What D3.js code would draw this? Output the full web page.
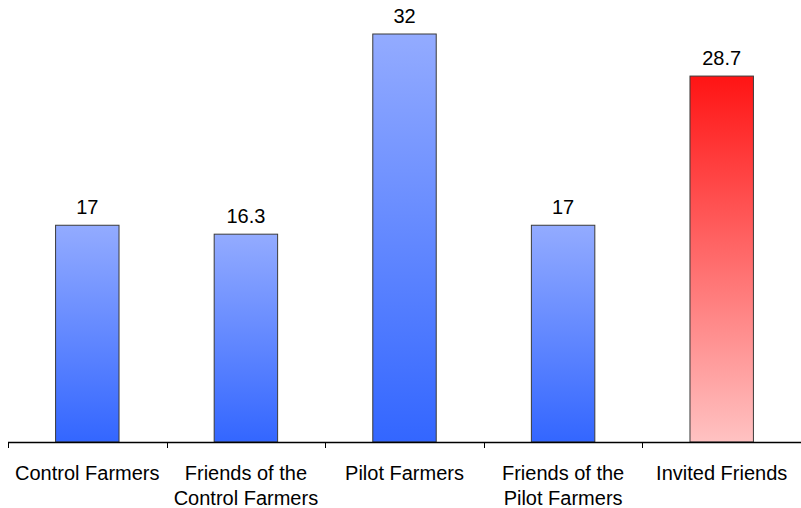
<!DOCTYPE html>
<html><head><meta charset="utf-8">
<script src="https://cdn.jsdelivr.net/npm/d3@7"></script>
<style>body{margin:0;background:#fff}</style>
</head><body>
<svg id="c" width="801" height="508"></svg>
<script>
const categories = [["Control Farmers"],["Friends of the","Control Farmers"],["Pilot Farmers"],["Friends of the","Pilot Farmers"],["Invited Friends"]];
const values = [17, 16.3, 32, 17, 28.7];
const labels = ["17","16.3","32","17","28.7"];
const highlight = [false,false,false,false,true];

const svg = d3.select("#c");
const x = d3.scaleBand().domain(d3.range(values.length)).range([8, 801]).paddingInner(0.6).paddingOuter(0.3);
const y = d3.scaleLinear().domain([0, 35]).range([442, 442 - 35*12.75]);

const defs = svg.append("defs");
const gb = defs.append("linearGradient").attr("id","gb").attr("x1",0).attr("y1",0).attr("x2",0).attr("y2",1);
gb.append("stop").attr("offset","0%").attr("stop-color","#93ABFF");
gb.append("stop").attr("offset","100%").attr("stop-color","#3366FF");
const gr = defs.append("linearGradient").attr("id","gr").attr("x1",0).attr("y1",0).attr("x2",0).attr("y2",1);
gr.append("stop").attr("offset","0%").attr("stop-color","#FF1414");
gr.append("stop").attr("offset","100%").attr("stop-color","#FFC2C2");

const font = "'Liberation Sans', Arial, sans-serif";

svg.selectAll("rect.bar").data(values).join("rect").attr("class","bar")
  .attr("x",(d,i)=>x(i)).attr("width",x.bandwidth())
  .attr("y",d=>y(d)).attr("height",d=>y(0)-y(d))
  .attr("fill",(d,i)=>highlight[i]?"url(#gr)":"url(#gb)")
  .attr("stroke","#3a3a3a").attr("stroke-width",1);

svg.selectAll("text.val").data(values).join("text").attr("class","val")
  .attr("x",(d,i)=>x(i)+x.bandwidth()/2).attr("y",d=>y(d)-11)
  .attr("text-anchor","middle").attr("font-family",font).attr("font-size",20).attr("fill","#000")
  .text((d,i)=>labels[i]);

const step = x.step();
svg.append("line").attr("x1",8).attr("x2",801).attr("y1",442.5).attr("y2",442.5).attr("stroke","#000").attr("stroke-width",1.3);
const ticks = d3.range(values.length+1).map(i=>8+i*step);
svg.selectAll("line.tk").data(ticks).join("line").attr("class","tk")
  .attr("x1",d=>Math.round(d)+0.5).attr("x2",d=>Math.round(d)+0.5).attr("y1",442).attr("y2",448).attr("stroke","#000");

const cl = svg.selectAll("text.cat").data(categories).join("text").attr("class","cat")
  .attr("text-anchor","middle").attr("font-family",font).attr("font-size",20).attr("fill","#000");
cl.each(function(lines,i){
  const t=d3.select(this);
  lines.forEach((l,j)=>t.append("tspan").attr("x",x(i)+x.bandwidth()/2).attr("y",480+j*25).text(l));
});
</script>
</body></html>
